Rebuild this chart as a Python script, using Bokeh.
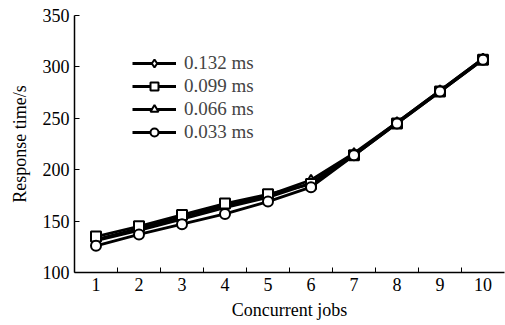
from bokeh.plotting import figure
from bokeh.models import FixedTicker, Legend, LegendItem, ColumnDataSource
from bokeh.embed import file_html
from bokeh.resources import INLINE

jobs = [1, 2, 3, 4, 5, 6, 7, 8, 9, 10]
s132 = [131, 141, 152, 163, 173, 187, 215, 246, 277, 308]
s099 = [135, 145, 156, 167, 176, 186, 214, 245, 276, 307]
s066 = [132, 143, 154, 165, 175, 190, 216, 246, 277, 308]
s033 = [126, 137, 147, 157, 169, 183, 214, 245, 276, 307]
labels = ["0.132 ms", "0.099 ms", "0.066 ms", "0.033 ms"]
markers = ["diamond", "square", "triangle", "circle"]
sizes = [10, 10, 9, 10]
yticks = [100, 150, 200, 250, 300, 350]

FONT = "Liberation Serif"

p = figure(width=505, height=325, output_backend="svg", toolbar_location=None,
           x_range=(0.5, 10.5), y_range=(100, 350),
           min_border_left=74, min_border_right=1, min_border_top=15, min_border_bottom=53)
p.outline_line_color = None
p.grid.visible = False

order = [(labels[0], s132, markers[0], sizes[0]),
         (labels[2], s066, markers[2], sizes[2]),
         (labels[1], s099, markers[1], sizes[1]),
         (labels[3], s033, markers[3], sizes[3])]
rmap = {}
for lab, ys, mk, sz in order:
    src = ColumnDataSource(dict(x=jobs, y=ys))
    r1 = p.line("x", "y", source=src, line_color="black", line_width=2.8)
    r2 = p.scatter("x", "y", source=src, marker=mk, size=sz, fill_color="white",
                   line_color="black", line_width=2)
    rmap[lab] = [r1, r2]

legend = Legend(items=[LegendItem(label=l, renderers=rmap[l]) for l in labels],
                location=(58, 129), background_fill_alpha=0, border_line_color=None,
                label_text_font=FONT, label_text_font_size="19px",
                glyph_width=44, glyph_height=20, spacing=1, label_standoff=8,
                padding=0, margin=0)
p.add_layout(legend)

p.xaxis.ticker = FixedTicker(ticks=jobs, minor_ticks=[1.5, 2.5, 3.5, 4.5, 5.5, 6.5, 7.5, 8.5, 9.5])
p.xaxis.major_tick_in = 0
p.xaxis.major_tick_out = 0
p.xaxis.minor_tick_in = 5
p.xaxis.minor_tick_out = 0
p.xaxis.minor_tick_line_color = "black"
p.xaxis.axis_label = "Concurrent jobs"

p.yaxis.ticker = FixedTicker(ticks=yticks)
p.yaxis.major_tick_in = 5
p.yaxis.major_tick_out = 0
p.yaxis.minor_tick_line_color = None
p.yaxis.axis_label = "Response time/s"

for ax in [p.xaxis[0], p.yaxis[0]]:
    ax.axis_line_color = "black"
    ax.axis_line_width = 1.5
    ax.major_tick_line_color = "black"
    ax.major_label_text_font = FONT
    ax.major_label_text_font_size = "18px"
    ax.major_label_text_color = "black"
    ax.axis_label_text_font = FONT
    ax.axis_label_text_font_size = "18px"
    ax.axis_label_text_font_style = "normal"
    ax.axis_label_text_color = "black"
    ax.major_label_standoff = 5
    ax.axis_label_standoff = 6
p.yaxis.axis_label_standoff = 10

open("out.html", "w").write(file_html(p, INLINE))
